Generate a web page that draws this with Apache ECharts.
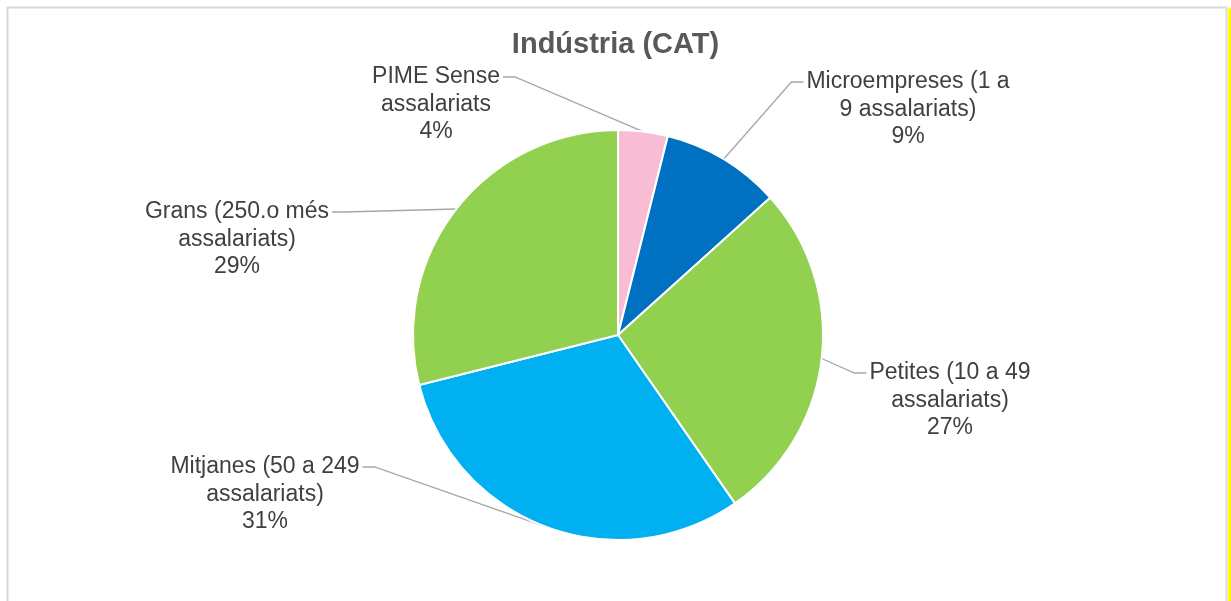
<!DOCTYPE html>
<html>
<head>
<meta charset="utf-8">
<script src="https://cdn.jsdelivr.net/npm/echarts@6/dist/echarts.min.js"></script>
<style>
    html, body { margin: 0; padding: 0; background: #fff; }
    #chart { width: 1231px; height: 601px; }
</style>
</head>
<body>
<div id="chart"></div>
<script>
    // categories, split the way the labels wrap
    var categoriesLine1 = ['PIME Sense', 'Microempreses (1 a', 'Petites (10 a 49', 'Mitjanes (50 a 249', 'Grans (250.o més'];
    var categoriesLine2 = ['assalariats', '9 assalariats)', 'assalariats)', 'assalariats)', 'assalariats)'];
    var values = [3.9, 9.4, 27.0, 30.7, 28.9];
    var colors = ['#F8BCD5', '#0070C0', '#92D050', '#00B0F0', '#92D050'];

    // label block: centre x, centre y of first line
    var labelPos = [[436, 77], [908, 82], [950, 373], [265, 467], [237, 212]];

    var FONT = 'Liberation Sans, Arial, sans-serif';
    var LH = 27.5;
    var LINE_DROP = 6; // leader lines meet the text a little below the first line's middle
    var total = values.reduce(function (a, b) { return a + b; }, 0);

    function pct(v) {
        return Math.round(v / total * 100) + '%';
    }

    var chart = echarts.init(document.getElementById('chart'));
    var option = {
        animation: false,
        title: {
            text: 'Indústria (CAT)',
            left: 'center',
            top: 25,
            textStyle: {
                fontFamily: FONT,
                fontSize: 29,
                fontWeight: 'bold',
                color: '#595959'
            }
        },
        graphic: [
            {
                type: 'rect',
                shape: { x: 7.5, y: 7.5, width: 1219, height: 620 },
                style: { fill: 'none', stroke: '#D9D9D9', lineWidth: 2 },
                silent: true
            },
            {
                type: 'rect',
                shape: { x: 1228, y: 8, width: 3, height: 600 },
                style: { fill: '#FFFF00' },
                silent: true
            }
        ],
        series: [
            {
                // the pie, with the first label line and its leader
                type: 'pie',
                center: [618, 335],
                radius: 205,
                startAngle: 90,
                clockwise: true,
                itemStyle: { borderColor: '#fff', borderWidth: 2 },
                label: {
                    show: true,
                    position: 'outside',
                    fontFamily: FONT,
                    fontSize: 23,
                    lineHeight: LH,
                    color: '#404040',
                    padding: [0, 3, LINE_DROP * 2, 3],
                    formatter: function (p) {
                        return categoriesLine1[p.dataIndex];
                    }
                },
                labelLine: {
                    show: true,
                    length: 20,
                    length2: 12,
                    lineStyle: { color: '#A6A6A6', width: 1.3 }
                },
                labelLayout: function (p) {
                    var pos = labelPos[p.dataIndex];
                    return { x: pos[0], y: pos[1], align: 'center', verticalAlign: 'middle' };
                },
                data: values.map(function (v, i) {
                    return { name: categoriesLine1[i], value: v, itemStyle: { color: colors[i] } };
                })
            },
            {
                // same slices, invisible, carrying the rest of each label
                type: 'pie',
                center: [618, 335],
                radius: 205,
                startAngle: 90,
                clockwise: true,
                silent: true,
                itemStyle: { color: 'rgba(0,0,0,0)', borderWidth: 0 },
                label: {
                    show: true,
                    position: 'outside',
                    fontFamily: FONT,
                    fontSize: 23,
                    lineHeight: LH,
                    color: '#404040',
                    formatter: function (p) {
                        return categoriesLine2[p.dataIndex] + '\n' + pct(p.value);
                    }
                },
                labelLine: { show: false },
                labelLayout: function (p) {
                    var pos = labelPos[p.dataIndex];
                    return { x: pos[0], y: pos[1] + LH / 2, align: 'center', verticalAlign: 'top' };
                },
                data: values.map(function (v, i) {
                    return { name: categoriesLine2[i], value: v };
                })
            }
        ]
    };
    chart.setOption(option);
</script>
</body>
</html>
